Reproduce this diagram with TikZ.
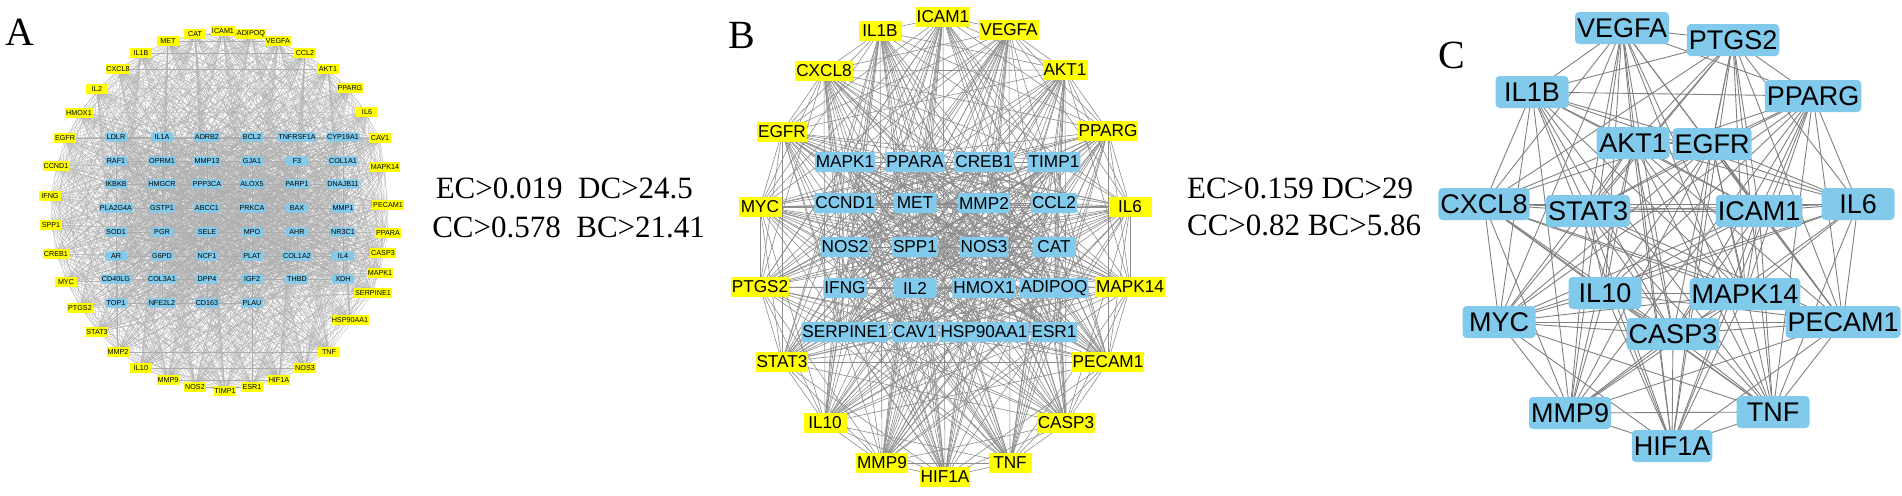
\documentclass[tikz,border=0pt]{standalone}
\usepackage{fontspec}
\setmainfont{Liberation Serif}
\newfontfamily\arialf{Liberation Sans}
\usetikzlibrary{backgrounds}
\definecolor{ylw}{RGB}{255,255,0}
\definecolor{blu}{RGB}{130,202,236}
\begin{document}
\begin{tikzpicture}[x=0.5pt,y=-0.5pt,
  anode/.style={inner sep=0.4pt,minimum width=11pt,minimum height=4.6pt,font=\arialf\fontsize{3.6}{4}\selectfont},
  ay/.style={anode,fill=ylw},
  ab/.style={anode,fill=blu,rounded corners=0.8pt},
  bnode/.style={inner sep=0.5pt,minimum width=21.5pt,minimum height=10pt,font=\arialf\fontsize{8.6}{9}\selectfont},
  by/.style={bnode,fill=ylw},
  bb/.style={bnode,fill=blu,rounded corners=1pt},
  cnode/.style={inner sep=1pt,minimum width=36.5pt,minimum height=16pt,fill=blu,rounded corners=2pt,font=\arialf\fontsize{13.5}{14}\selectfont},
  lett/.style={font=\fontsize{20}{20}\selectfont},
  crit/.style={font=\fontsize{15.5}{16}\selectfont},
  edA/.style={draw=black!32,line width=0.12pt},
  edB/.style={draw=black!45,line width=0.3pt},
  edC/.style={draw=black!50,line width=0.45pt}]
\useasboundingbox (0,0) rectangle (1902,495);
% ---------- Panel A ----------
\node[lett] (LA) at (20,32) {A};
\foreach \n/\x/\y [count=\i] in {IL1B/141/53,MET/168/41,CAT/195/34,ICAM1/223/31,ADIPOQ/251/34,VEGFA/278/41,CCL2/305/53,AKT1/328/69,PPARG/350/88,IL6/367/112,CAV1/380/138,MAPK14/385/167,PECAM1/388/205,PPARA/388/233,CASP3/383/253,MAPK1/380/273,SERPINE1/373/293,HSP90AA1/350/320,TNF/329/352,NOS3/305/368,HIF1A/279/380,ESR1/252/387,TIMP1/225/391,NOS2/195/387,MMP9/168/380,IL10/141/368,MMP2/118/352,STAT3/97/332,PTGS2/80/308,MYC/66/282,CREB1/56/254,SPP1/51/225,IFNG/50/196,CCND1/56/166,EGFR/65/138,HMOX1/79/113,IL2/97/89,CXCL8/118/69}
  \node[ay] (a\i) at (\x,\y) {\n};
\foreach \n/\x/\y [count=\i from 39] in {LDLR/116/137,IL1A/162/137,ADRB2/207/137,BCL2/252/137,TNFRSF1A/297/137,CYP19A1/343/137,
RAF1/116/161,OPRM1/162/161,MMP13/207/161,GJA1/252/161,F3/297/161,COL1A1/343/161,
IKBKB/116/184,HMGCR/162/184,PPP3CA/207/184,ALOX5/252/184,PARP1/297/184,DNAJB11/343/184,
PLA2G4A/116/208,GSTP1/162/208,ABCC1/207/208,PRKCA/252/208,BAX/297/208,MMP1/343/208,
SOD1/116/232,PGR/162/232,SELE/207/232,MPO/252/232,AHR/297/232,NR3C1/343/232,
AR/116/256,G6PD/162/256,NCF1/207/256,PLAT/252/256,COL1A2/297/256,IL4/343/256,
CD40LG/116/279,COL3A1/162/279,DPP4/207/279,IGF2/252/279,THBD/297/279,XDH/343/279,
TOP1/116/303,NFE2L2/162/303,CD163/207/303,PLAU/252/303}
  \node[ab] (a\i) at (\x,\y) {\n};
\begin{pgfonlayer}{background}
\foreach \i [evaluate=\i as \ni using int(\i+1)] in {1,...,83}
  \foreach \j in {\ni,...,84}{
    \pgfmathtruncatemacro\k{mod(\i+\j,2)}
    \ifnum\k=0 \draw[edA] (a\i.center) -- (a\j.center);\fi}
\end{pgfonlayer}
\node[crit,anchor=east] (tA1) at (700,188) {EC>0.019\ \ DC>24.5};
\node[crit,anchor=east] (tA2) at (712,227) {CC>0.578\ \ BC>21.41};
% ---------- Panel B ----------
\node[lett] (LB) at (742,35) {B};
\foreach \n/\x/\y [count=\i] in {ICAM1/943/17,VEGFA/1009/30,AKT1/1065/70,PPARG/1108/131,IL6/1130/207,MAPK14/1130/287,PECAM1/1108/362,CASP3/1066/423,TNF/1010/463,HIF1A/945/477,MMP9/882/463,IL10/825/423,STAT3/782/362,PTGS2/760/287,MYC/760/207,EGFR/782/132,CXCL8/824/71,IL1B/880/31}
  \node[by] (b\i) at (\x,\y) {\n};
\foreach \n/\x/\y [count=\i from 19] in {MAPK1/845/162,PPARA/915/162,CREB1/984/162,TIMP1/1054/162,
CCND1/845/203,MET/915/203,MMP2/984/203,CCL2/1054/203,
NOS2/845/247,SPP1/915/247,NOS3/984/247,CAT/1054/247,
IFNG/845/288,IL2/915/288,HMOX1/984/288,ADIPOQ/1054/288,
SERPINE1/845/332,CAV1/915/332,HSP90AA1/984/332,ESR1/1054/332}
  \node[bb] (b\i) at (\x,\y) {\n};
\begin{pgfonlayer}{background}
\foreach \i [evaluate=\i as \ni using int(\i+1)] in {1,...,37}
  \foreach \j in {\ni,...,38}{
    \pgfmathtruncatemacro\k{mod(\i*5+\j*3,4)}
    \ifnum\k>0 \draw[edB] (b\i.center) -- (b\j.center);\fi}
\end{pgfonlayer}
\node[crit,anchor=west] (tB1) at (1180,188) {EC>0.159 DC>29};
\node[crit,anchor=west] (tB2) at (1180,225) {CC>0.82 BC>5.86};
% ---------- Panel C ----------
\node[lett] (LC) at (1452,55) {C};
\foreach \n/\x/\y [count=\i] in {VEGFA/1622/28,PTGS2/1733/40,PPARG/1813/96,IL6/1858/204,PECAM1/1843/322,TNF/1773/412,HIF1A/1672/446,MMP9/1570/413,MYC/1499/322,CXCL8/1484/204,IL1B/1532/92,AKT1/1633/143,EGFR/1712/144,ICAM1/1759/211,MAPK14/1745/294,CASP3/1673/334,IL10/1605/293,STAT3/1588/211}
  \node[cnode] (c\i) at (\x,\y) {\n};
\begin{pgfonlayer}{background}
\foreach \i [evaluate=\i as \ni using int(\i+1)] in {1,...,17}
  \foreach \j in {\ni,...,18}{
    \pgfmathtruncatemacro\k{mod(\i+2*\j,9)}
    \ifnum\k>0 \draw[edC] (c\i.center) -- (c\j.center);\fi}
\end{pgfonlayer}
\end{tikzpicture}
\end{document}
